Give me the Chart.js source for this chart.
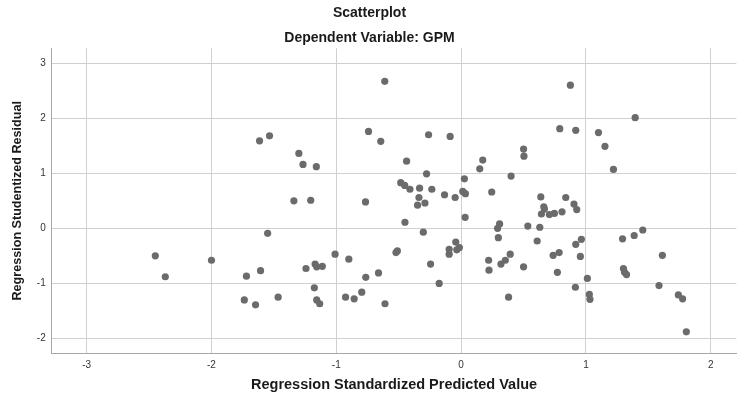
<!DOCTYPE html>
<html>
<head>
<meta charset="utf-8">
<script src="https://cdn.jsdelivr.net/npm/chart.js@4"></script>
<style>
  html, body { margin: 0; padding: 0; background: #fff; }
  #wrap { width: 740px; height: 396px; }
</style>
</head>
<body>
<div id="wrap"><canvas id="scatter" width="740" height="396"></canvas></div>
<script>
// standardized predicted values (x) and studentized residuals (y)
const predicted = [
    -2.45, -2.37, -2.00, -1.615, -1.535, -1.30, -1.267, -1.16, -1.34, -1.205,
    -1.55, -1.01, -0.90, -1.607, -1.72, -1.243, -1.17, -1.157, -1.112, -1.176,
    -1.737, -1.647, -1.466, -1.157, -1.133, -0.926,
    -0.612, -0.742, -0.644, -0.261, -0.088, -0.437, -0.277, -0.484, -0.452, -0.41,
    -0.333, -0.235, -0.338, -0.349, -0.29, -0.133, -0.048, 0.026, 0.013, 0.034,
    -0.766, -0.45, 0.032, -0.303, 0.149, 0.173, 0.50, 0.503, 0.40, 0.245,
    0.308, 0.292, 0.298, 0.534, 0.63, 0.609, -0.043, -0.014, -0.035, -0.096,
    -0.096, -0.511, -0.522, -0.245, -0.662, -0.764, -0.796, -0.857, -0.61, -0.176,
    0.22, 0.223, 0.319, 0.354, 0.393, 0.50, 0.38,
    0.875, 1.394, 0.79, 0.918, 1.10, 1.152, 1.22, 0.638, 0.838, 0.662,
    0.667, 0.643, 0.707, 0.747, 0.808, 0.904, 0.926, 0.963, 0.918, 0.955,
    0.737, 0.785, 0.771, 0.915, 1.011, 1.027, 1.032, 1.293, 1.386, 1.455,
    1.612, 1.30, 1.309, 1.325, 1.585, 1.74, 1.774, 1.804
];
const residual = [
    -0.50, -0.88, -0.58, 1.59, 1.68, 1.36, 1.16, 1.12, 0.50, 0.51,
    -0.09, -0.47, -0.56, -0.77, -0.87, -0.73, -0.65, -0.70, -0.69, -1.08,
    -1.30, -1.39, -1.25, -1.30, -1.37, -1.25,
    2.67, 1.76, 1.58, 1.70, 1.67, 1.22, 0.99, 0.83, 0.78, 0.71,
    0.73, 0.71, 0.56, 0.42, 0.46, 0.61, 0.56, 0.90, 0.67, 0.63,
    0.48, 0.11, 0.20, -0.07, 1.08, 1.24, 1.44, 1.31, 0.95, 0.66,
    0.08, 0.00, -0.17, 0.04, 0.02, -0.23, -0.25, -0.35, -0.39, -0.38,
    -0.47, -0.41, -0.44, -0.65, -0.81, -0.89, -1.16, -1.28, -1.37, -1.00,
    -0.58, -0.76, -0.65, -0.58, -0.47, -0.70, -1.25,
    2.60, 2.01, 1.81, 1.78, 1.74, 1.49, 1.07, 0.57, 0.56, 0.39,
    0.35, 0.26, 0.25, 0.27, 0.30, 0.44, 0.34, -0.20, -0.29, -0.51,
    -0.49, -0.44, -0.80, -1.07, -0.91, -1.20, -1.29, -0.19, -0.13, -0.03,
    -0.49, -0.73, -0.80, -0.84, -1.04, -1.21, -1.28, -1.88
];

const titleText = "Scatterplot";
const subtitleText = "Dependent Variable: GPM";
const xTitle = "Regression Standardized Predicted Value";
const yTitle = "Regression Studentized Residual";

const points = predicted.map((x, i) => ({ x: x, y: residual[i] }));

const ctx = document.getElementById("scatter").getContext("2d");
new Chart(ctx, {
    type: "scatter",
    data: {
        datasets: [{
            data: points,
            backgroundColor: "#6b6b6b",
            borderColor: "#6b6b6b",
            borderWidth: 0,
            pointRadius: 3.6,
            pointHoverRadius: 3.6
        }]
    },
    options: {
        responsive: false,
        animation: false,
        events: [],
        layout: { padding: { top: 0, right: 1, bottom: 0, left: 0 } },
        plugins: {
            legend: { display: false },
            tooltip: { enabled: false },
            title: {
                display: true,
                text: titleText,
                color: "#1a1a1a",
                font: { family: "Liberation Sans, Arial", size: 14, weight: "bold" },
                padding: { top: 5.2, bottom: 7.4 }
            },
            subtitle: {
                display: true,
                text: subtitleText,
                color: "#1a1a1a",
                font: { family: "Liberation Sans, Arial", size: 14, weight: "bold" },
                padding: { top: 0, bottom: 2.1 }
            }
        },
        scales: {
            x: {
                type: "linear",
                min: -3.28,
                max: 2.205,
                afterFit: s => { s.height = 42.7; },
                ticks: {
                    stepSize: 1,
                    includeBounds: false,
                    color: "#333",
                    padding: 6,
                    font: { family: "Liberation Sans, Arial", size: 10 }
                },
                grid: { color: "#d0d0d0", lineWidth: 1, drawTicks: false },
                border: { color: "#a8a8a8", width: 1 },
                title: {
                    display: true,
                    text: xTitle,
                    color: "#1a1a1a",
                    font: { family: "Liberation Sans, Arial", size: 14.5, weight: "bold" },
                    padding: { top: 0, bottom: 2 }
                }
            },
            y: {
                type: "linear",
                min: -2.27,
                max: 3.27,
                afterFit: s => { s.width = 51.7; },
                ticks: {
                    stepSize: 1,
                    includeBounds: false,
                    color: "#333",
                    padding: 6,
                    font: { family: "Liberation Sans, Arial", size: 10 }
                },
                grid: { color: "#d0d0d0", lineWidth: 1, drawTicks: false },
                border: { color: "#a8a8a8", width: 1 },
                title: {
                    display: true,
                    text: yTitle,
                    color: "#1a1a1a",
                    font: { family: "Liberation Sans, Arial", size: 12.6, weight: "bold" },
                    padding: { top: 10, bottom: 0 }
                }
            }
        }
    }
});
</script>
</body>
</html>
